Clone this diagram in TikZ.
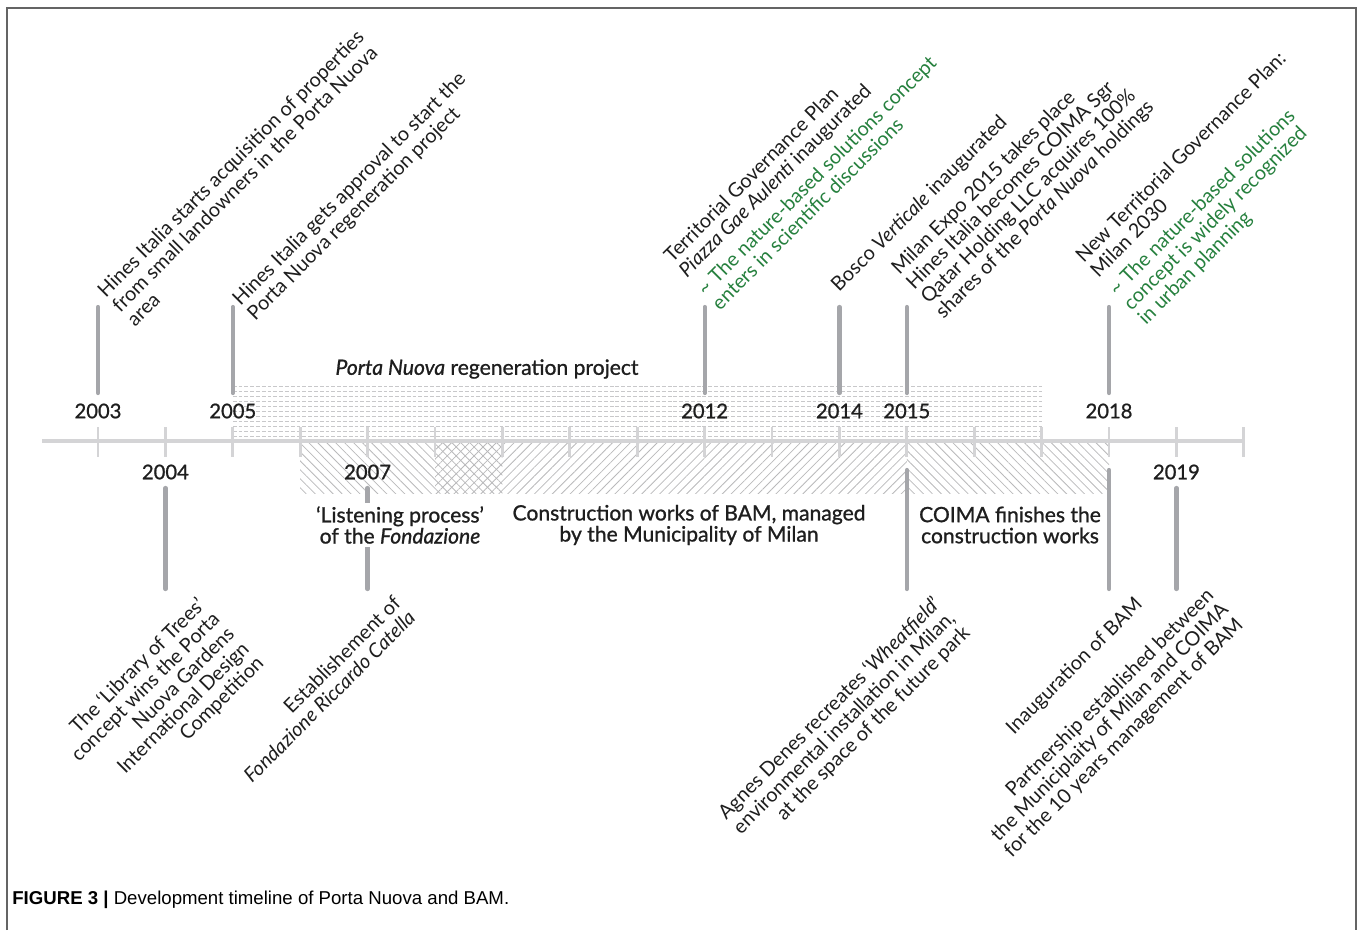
\documentclass[tikz,border=0pt]{standalone}
\usepackage{fontspec}
\setmainfont{Lato}
\newfontfamily\capfont{Liberation Sans}
\newfontfamily\demifont[FakeBold=1]{Lato}
\usetikzlibrary{patterns.meta}

\definecolor{axisgray}{RGB}{212,212,214}
\definecolor{stemgray}{RGB}{165,166,170}
\definecolor{dashgray}{RGB}{200,200,202}
\definecolor{hatchgray}{RGB}{185,185,187}
\definecolor{nbsgreen}{RGB}{38,128,62}
\definecolor{framegray}{RGB}{100,100,100}
\definecolor{inkblack}{RGB}{30,30,30}

\newcommand\evfont{\fontsize{11.3}{11.8}\selectfont}
\newcommand\yrfont{\demifont\fontsize{11.5}{13}\selectfont}
\newcommand\bandfont{\demifont\fontsize{12}{12}\selectfont}

\begin{document}
\begin{tikzpicture}[x=0.02cm,y=-0.02cm,
    axisline/.style={axisgray, line width=2.3pt},
    tick/.style={axisgray, line width=1.6pt},
    stem/.style={stemgray, line width=2.4pt, line cap=round},
    year/.style={font=\yrfont, text=inkblack, inner sep=1pt},
    evup/.style={rotate=45, anchor=north west, align=left, inner sep=0pt, font=\evfont, text=inkblack},
    evdown/.style={rotate=45, anchor=north east, align=right, inner sep=0pt, font=\evfont, text=inkblack},
    band/.style={font=\bandfont, align=center, fill=white, inner sep=2pt, text=inkblack},
    dashrow/.style={dashgray, line width=0.45pt, dash pattern=on 2.2pt off 1.1pt},
    hatch/.style={pattern={Lines[angle=#1,distance=3.6pt,line width=0.45pt]}, pattern color=hatchgray}]

        \useasboundingbox (0,0) rectangle (1358,930);
        \draw[framegray, line width=1pt] (7,930) -- (7,8) -- (1356,8) -- (1356,930);

        % one coordinate per year on the axis
        \foreach \yr in {2003,...,2020}
            \coordinate (y\yr) at ({98+67.4*(\yr-2003)},441);

        % project bands
        \foreach \yy in {386,391,...,436}
            \draw[dashrow] (y2005 |- 0,\yy) -- (y2017 |- 0,\yy);
        \fill[hatch=-45] (y2006) rectangle (y2009 |- 0,493);
        \fill[hatch=45] (y2008) rectangle (y2015 |- 0,493);
        \fill[hatch=-45] (y2015) rectangle (y2018 |- 0,493);

        % axis and ticks
        \draw[axisline] (42,441) -- (y2020);
        \foreach \yr in {2003,...,2020}
            \draw[tick] ([shift={(0,-14)}]y\yr) -- ([shift={(0,16)}]y\yr);

        % year labels
        \foreach \yr in {2003,2005,2012,2014,2015,2018}
            \node[year] (lab\yr) at (y\yr |- 0,411) {\yr};
        \foreach \yr in {2004,2007,2019}
            \node[year] (lab\yr) at (y\yr |- 0,472) {\yr};

        % stems
        \foreach \yr in {2003,2005,2012,2014,2015,2018} {
            \coordinate (up\yr) at (y\yr |- 0,307);
            \draw[stem] (up\yr) -- (y\yr |- 0,393);
        }
        \foreach \yr/\st in {2004/488,2007/488,2015/470,2018/470,2019/488} {
            \coordinate (dn\yr) at (y\yr |- 0,589);
            \draw[stem] (y\yr |- 0,\st) -- (dn\yr);
        }

        % events above the axis
        \node[evup] (ev2003) at ([shift={(-3,-19)}]up2003) {Hines Italia starts acquisition of properties\\from small landowners in the Porta Nuova\\area};
        \node[evup] (ev2005) at ([shift={(-3,-11)}]up2005) {Hines Italia gets approval to start the\\Porta Nuova regeneration project};
        \node[evup] (ev2012) at ([shift={(-43,-54)}]up2012) {Territorial Governance Plan\\\textit{Piazza Gae Aulenti} inaugurated\\[3pt]{\color{nbsgreen}\textasciitilde{} The nature-based solutions concept}\\{\color{nbsgreen}enters in scientific discussions}};
        \node[evup] (ev2014) at ([shift={(-11,-25)}]up2014) {Bosco \textit{Verticale} inaugurated};
        \node[evup] (ev2015) at ([shift={(-18,-42)}]up2015) {Milan Expo 2015 takes place\\Hines Italia becomes COIMA Sgr\\Qatar Holding LLC acquires 100\%\\shares of the \textit{Porta Nuova} holdings};
        \node[evup] (ev2018) at ([shift={(-36,-54)}]up2018) {New Territorial Governance Plan:\\Milan 2030\\[3pt]{\color{nbsgreen}\textasciitilde{} The nature-based solutions}\\{\color{nbsgreen}concept is widely recognized}\\{\color{nbsgreen}in urban planning}};

        % events below the axis
        \node[evdown] (ev2004) at ([shift={(30,6)}]dn2004) {The ‘Library of Trees’\\concept wins the Porta\\Nuova Gardens\\International Design\\Competition};
        \node[evdown] (ev2007) at ([shift={(24,5)}]dn2007) {Establishement of\\\textit{Fondazione Riccardo Catella}};
        \node[evdown] (evlow2015) at ([shift={(24,5)}]dn2015) {Agnes Denes recreates ‘\textit{Wheatfield}’\\environmental installation in Milan,\\at the space of the future park};
        \node[evdown] (evlow2018) at ([shift={(24,6)}]dn2018) {Inauguration of BAM};
        \node[evdown] (ev2019) at ([shift={(28,-3)}]dn2019) {Partnership established between\\the Municiplaity of Milan and COIMA\\for the 10 years management of BAM};

        % band labels
        \node[font=\bandfont, text=inkblack] (pnlabel) at (487,369) {\textit{Porta Nuova} regeneration project};
        \node[band] (listen) at (400,525) {‘Listening process’\\of the \textit{Fondazione}};
        \node[band] (works) at (689,525) {Construction works of BAM, managed\\by the Municipality of Milan};
        \node[band] (coima) at (1010,525) {COIMA finishes the\\construction works};

        % caption
        \node[anchor=base west, inner sep=0pt, font=\capfont\fontsize{10.6}{12}\selectfont] (caption) at (12,904) {\textbf{FIGURE 3 |} Development timeline of Porta Nuova and BAM.};

    \end{tikzpicture}
\end{document}
